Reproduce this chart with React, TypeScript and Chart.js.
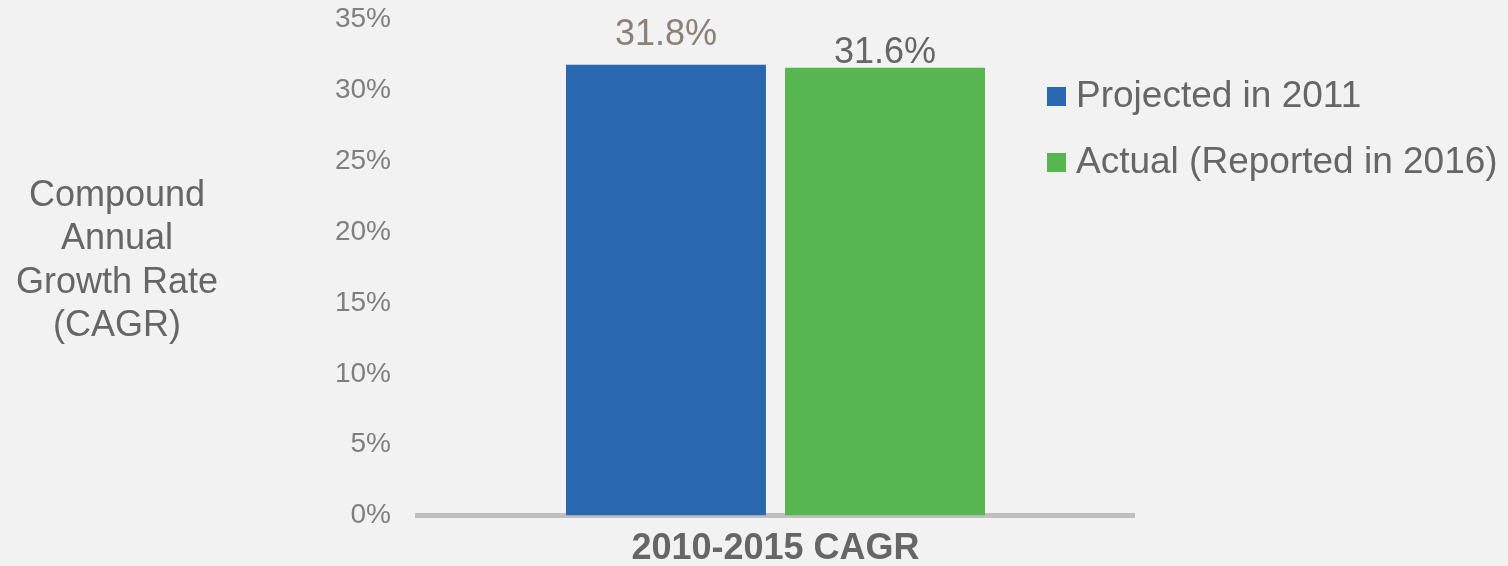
import React, { useEffect, useRef } from "react";
import { Chart, registerables } from "chart.js";

Chart.register(...registerables);

const categories = ["2010-2015 CAGR"];
const seriesNames = ["Projected in 2011", "Actual (Reported in 2016)"];
const projectedValues = [31.8];
const actualValues = [31.6];
const yTitleLines = ["Compound", "Annual", "Growth Rate", "(CAGR)"];
const yMin = 0;
const yMax = 35;
const yStep = 5;

const FONT = '"Liberation Sans", Arial, sans-serif';
const BLUE = "#2968AE";
const GREEN = "#57B64F";
const TEXT = "#666666";

const labelStyles = [
  { color: "#8B8179", offset: 20 },
  { color: "#666666", offset: 5 },
];

const dataLabelPlugin = {
  id: "dataLabels",
  afterDatasetsDraw(chart: any) {
    const ctx = chart.ctx;
    ctx.save();
    ctx.font = `36px ${FONT}`;
    ctx.textAlign = "center";
    ctx.textBaseline = "alphabetic";
    chart.data.datasets.forEach((ds: any, i: number) => {
      const meta = chart.getDatasetMeta(i);
      meta.data.forEach((bar: any, j: number) => {
        const st = labelStyles[i] || labelStyles[0];
        ctx.fillStyle = st.color;
        ctx.fillText(Number(ds.data[j]).toFixed(1) + "%", bar.x, bar.y - st.offset);
      });
    });
    ctx.restore();
  },
};

const legendPlugin = {
  id: "customLegend",
  afterDraw(chart: any) {
    const ctx = chart.ctx;
    ctx.save();
    ctx.font = `37px ${FONT}`;
    ctx.textBaseline = "middle";
    ctx.textAlign = "left";
    chart.data.datasets.forEach((ds: any, i: number) => {
      const cy = 96 + i * 66;
      ctx.fillStyle = ds.backgroundColor;
      ctx.fillRect(1047, cy - 9, 19, 19);
      ctx.fillStyle = TEXT;
      ctx.fillText(ds.label, 1076, cy + 1);
    });
    ctx.restore();
  },
};

const yTitlePlugin = {
  id: "yTitle",
  afterDraw(chart: any) {
    const ctx = chart.ctx;
    ctx.save();
    ctx.font = `36px ${FONT}`;
    ctx.textAlign = "center";
    ctx.textBaseline = "alphabetic";
    ctx.fillStyle = TEXT;
    yTitleLines.forEach((line, i) => {
      ctx.fillText(line, 117, 206 + i * 43.4);
    });
    ctx.restore();
  },
};

export default function App() {
  const canvasRef = useRef<HTMLCanvasElement | null>(null);

  useEffect(() => {
    const canvas = canvasRef.current;
    if (!canvas) return;
    const chart = new Chart(canvas, {
      type: "bar",
      data: {
        labels: categories,
        datasets: [
          {
            label: seriesNames[0],
            data: projectedValues,
            backgroundColor: BLUE,
            categoryPercentage: 0.611,
            barPercentage: 0.913,
          },
          {
            label: seriesNames[1],
            data: actualValues,
            backgroundColor: GREEN,
            categoryPercentage: 0.611,
            barPercentage: 0.913,
          },
        ],
      },
      options: {
        responsive: false,
        animation: false,
        devicePixelRatio: 1,
        layout: { padding: { top: 19.5, left: 0, right: 1508 - 1134, bottom: 0 } },
        plugins: {
          legend: { display: false },
          tooltip: { enabled: false },
          title: { display: false },
        },
        scales: {
          x: {
            grid: { display: false, drawTicks: false },
            border: { display: true, color: "#BFBFBF", width: 5 },
            ticks: {
              color: TEXT,
              font: { family: FONT, size: 36, weight: "bold" },
              padding: 12,
            },
            afterFit(scale: any) {
              scale.height = 50.5;
              scale.paddingLeft = 0;
              scale.paddingRight = 0;
            },
          },
          y: {
            min: yMin,
            max: yMax,
            grid: { display: false, drawTicks: false },
            border: { display: false },
            ticks: {
              stepSize: yStep,
              color: "#7F7F7F",
              font: { family: FONT, size: 28 },
              padding: 26,
              callback: (v: any) => v + "%",
            },
            afterFit(scale: any) {
              scale.width = 417;
              scale.paddingTop = 0;
              scale.paddingBottom = 0;
            },
          },
        },
      },
      plugins: [dataLabelPlugin, legendPlugin, yTitlePlugin],
    } as any);
    return () => chart.destroy();
  }, []);

  return (
    <div
      style={{
        position: "fixed",
        left: 0,
        top: 0,
        width: 1508,
        height: 566,
        background: "#F2F2F2",
      }}
    >
      <canvas ref={canvasRef} width={1508} height={566} style={{ display: "block" }} />
    </div>
  );
}
